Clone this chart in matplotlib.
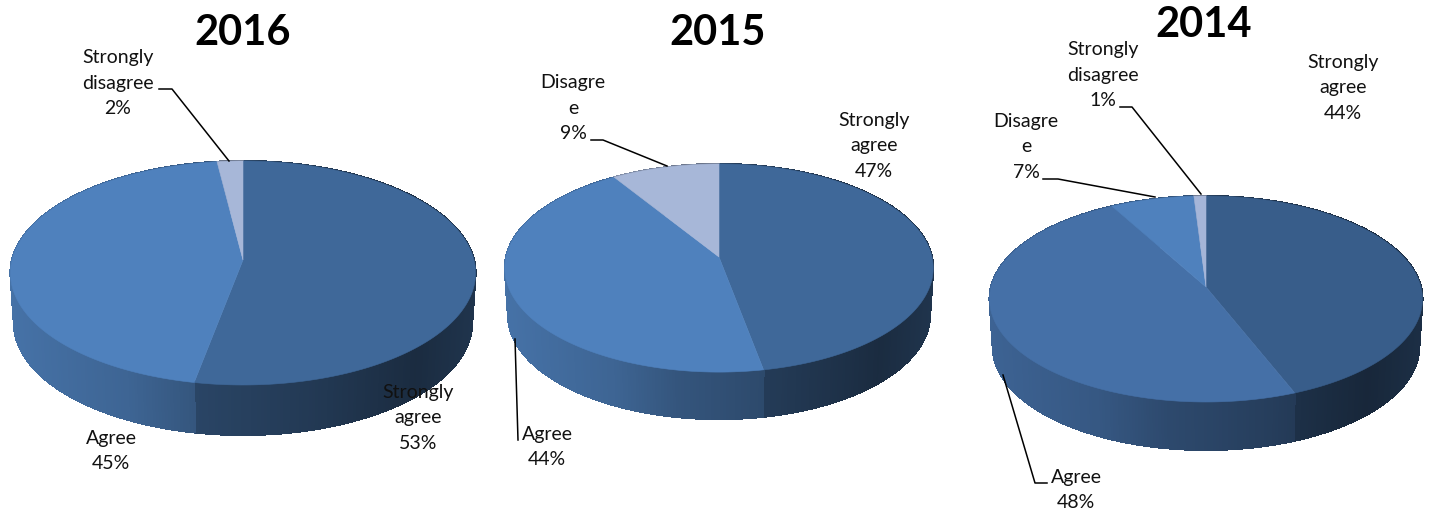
import numpy as np
import matplotlib
matplotlib.use('agg')
import matplotlib.pyplot as plt
from matplotlib.collections import PolyCollection

years = ['2016', '2015', '2014']

labels_2016 = ['Strongly\nagree', 'Agree', 'Strongly\ndisagree']
values_2016 = [53, 45, 2]
colors_2016 = ['#3f6899', '#4f81bd', '#a7b7d8']

labels_2015 = ['Strongly\nagree', 'Agree', 'Disagre\ne']
values_2015 = [47, 44, 9]
colors_2015 = ['#3f6899', '#4f81bd', '#a7b7d8']

labels_2014 = ['Strongly\nagree', 'Agree', 'Disagre\ne', 'Strongly\ndisagree']
values_2014 = [44, 48, 7, 1]
colors_2014 = ['#385d8a', '#4570a7', '#4f81bd', '#a5b5d8']

# pie geometry in pixels: centre x, apex y, half width, half height, perspective, depth
geom_2016 = (243, 260, 231, 110.5, 0.116, 50)
geom_2015 = (719, 257, 213, 102.9, 0.106, 47)
geom_2014 = (1206, 287, 215, 101.6, 0.1165, 48)

# label centres per slice
pos_2016 = [(418, 418), (111, 451), (118, 83)]
pos_2015 = [(874, 146), (547, 447), (573, 108)]
pos_2014 = [(1343, 88), (1076, 490), (1026, 147), (1103, 75)]

title_pos = [(243, 33), (718, 33), (1204, 25)]

leaders = [
    [(159, 89), (172, 89), (229, 161)],
    [(591, 140), (603, 140), (667, 166)],
    [(515, 339), (518, 440)],
    [(1120, 107), (1132, 107), (1201, 194)],
    [(1043, 179), (1058, 179), (1155, 197)],
    [(1003, 375), (1035, 483), (1047, 483)],
]

shade_u = [-1, -0.5, -0.2, 0.3, 0.75, 1]
shade_f = [0.88, 0.78, 0.66, 0.55, 0.42, 0.5]


def rim(t, geom, scale=1.0, drop=0):
    cx, cy, a, b, k, depth = geom
    X, Y = np.sin(t), -np.cos(t)
    w = 1 - k * Y
    return cx + scale * a * X / w, cy + b * Y / w + drop


def draw_pie(ax, values, colors, geom):
    cx, cy, a = geom[0], geom[1], geom[2]
    edges = np.cumsum([0] + values) / sum(values) * 2 * np.pi

    # side wall first, top faces go over it
    for i, col in enumerate(colors):
        t = np.linspace(edges[i], edges[i + 1], max(int(values[i] * 5), 3))
        x1, y1 = rim(t, geom)
        x2, y2 = rim(t, geom, 0.985, geom[5])
        base = np.array(matplotlib.colors.to_rgb(col))
        polys, cols = [], []
        for j in range(len(t) - 1):
            polys.append([(x1[j], y1[j]), (x1[j + 1], y1[j + 1]), (x2[j + 1], y2[j + 1]), (x2[j], y2[j])])
            u = ((x1[j] + x1[j + 1]) / 2 - cx) / a
            cols.append(base * np.interp(u, shade_u, shade_f))
        ax.add_collection(PolyCollection(polys, facecolors=cols, edgecolors=cols, linewidths=0.8,
                                         antialiaseds=False))

    for i, col in enumerate(colors):
        t = np.linspace(edges[i], edges[i + 1], 200)
        x, y = rim(t, geom)
        ax.fill(np.r_[cx, x], np.r_[cy, y], facecolor=col, edgecolor=col, linewidth=0.4)


fig = plt.figure(figsize=(14.29, 5.13), dpi=100)
ax = fig.add_axes([0, 0, 1, 1])
ax.set_xlim(0, 1429)
ax.set_ylim(513, 0)
ax.axis('off')

pies = [
    (labels_2016, values_2016, colors_2016, geom_2016, pos_2016),
    (labels_2015, values_2015, colors_2015, geom_2015, pos_2015),
    (labels_2014, values_2014, colors_2014, geom_2014, pos_2014),
]

for n, (labels, values, colors, geom, pos) in enumerate(pies):
    draw_pie(ax, values, colors, geom)
    ax.text(title_pos[n][0], title_pos[n][1], years[n], family='Lato', fontsize=30, weight='bold',
            ha='center', va='center', color='black')
    for lab, val, (x, y) in zip(labels, values, pos):
        ax.text(x, y, f'{lab}\n{val}%', family='Lato', fontsize=14, ha='center', va='center',
                multialignment='center', linespacing=1.63, color='#111111', zorder=5)

for line in leaders:
    xs, ys = zip(*line)
    ax.plot(xs, ys, color='black', lw=1.1, zorder=4)

fig.savefig('out.png', dpi=100)
